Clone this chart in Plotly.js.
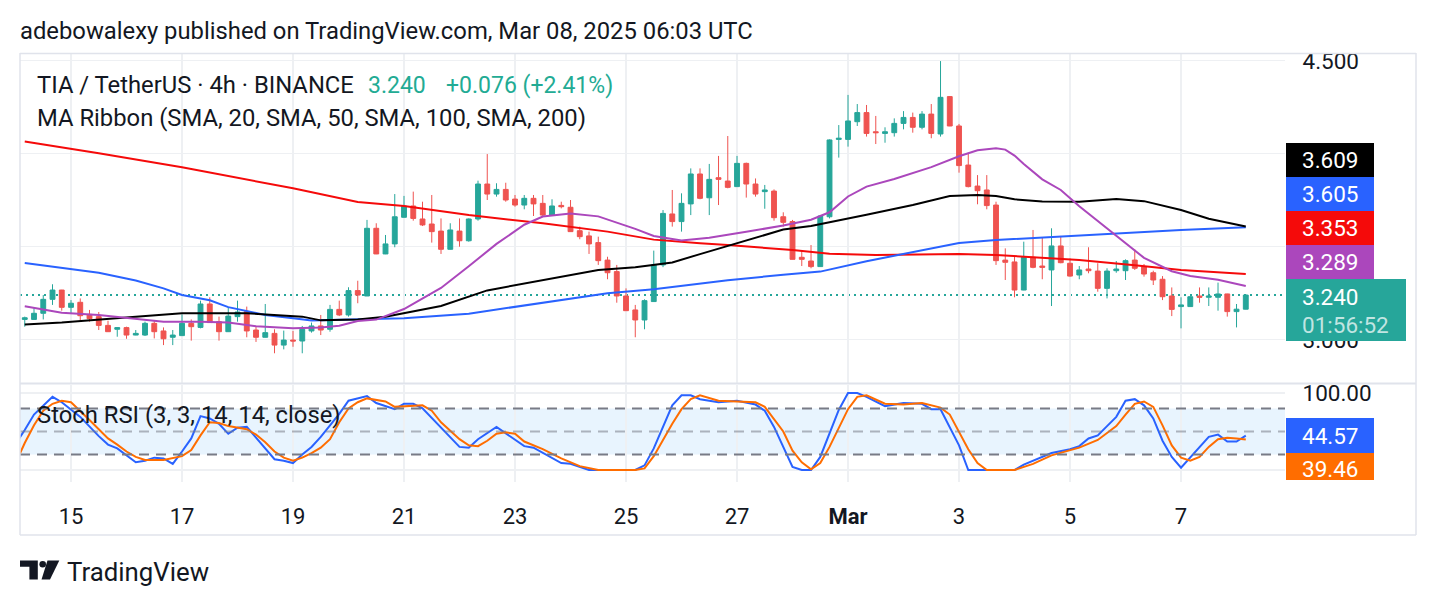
<!DOCTYPE html>
<html><head><meta charset="utf-8">
<script src="https://cdn.plot.ly/plotly-3.0.1.min.js"></script>
<style>html,body{margin:0;padding:0;background:#fff;}#chart{width:1436px;height:606px;}</style>
</head><body><div id="chart"></div>
<script>
// ---- data ----
const firstCandle = Date.UTC(2025, 1, 14, 4, 0); // 4h candles, BINANCE TIA/USDT
const stepMs = 4 * 3600 * 1000;

const openP = [3.109,3.109,3.142,3.217,3.267,3.174,3.201,3.136,3.124,3.077,
3.056,3.065,3.025,3.025,3.088,3.047,3.013,3.022,3.088,3.066,
3.192,3.097,3.043,3.124,3.152,3.052,3.013,3.034,2.971,2.998,
2.993,3.047,3.074,3.056,3.163,3.133,3.264,3.235,3.599,3.461,
3.515,3.658,3.719,3.649,3.622,3.584,3.486,3.584,3.532,3.649,
3.837,3.783,3.808,3.756,3.724,3.760,3.733,3.670,3.722,3.712,
3.586,3.558,3.522,3.428,3.366,3.235,3.160,3.106,3.205,3.402,
3.676,3.635,3.730,3.891,3.763,3.871,3.853,3.823,3.948,3.837,
3.796,3.799,3.661,3.635,3.443,3.423,3.393,3.661,4.077,4.077,
4.172,4.221,4.118,4.109,4.113,4.163,4.195,4.142,4.213,4.106,
4.307,4.149,3.939,3.826,3.805,3.724,3.428,3.418,3.267,3.443,
3.396,3.375,3.504,3.411,3.348,3.380,3.369,3.276,3.371,3.371,
3.428,3.393,3.360,3.325,3.235,3.178,3.178,3.235,3.228,3.228,
3.246,3.151,3.164];
const highP = [3.124,3.169,3.240,3.298,3.268,3.213,3.222,3.160,3.149,3.102,
3.066,3.070,3.052,3.097,3.106,3.066,3.052,3.136,3.109,3.210,
3.228,3.124,3.174,3.210,3.178,3.074,3.192,3.056,3.049,3.047,
3.074,3.092,3.133,3.187,3.210,3.282,3.317,3.644,3.626,3.563,
3.783,3.773,3.796,3.742,3.778,3.652,3.626,3.652,3.652,3.855,
3.998,3.841,3.844,3.778,3.778,3.778,3.778,3.755,3.742,3.751,
3.608,3.581,3.554,3.446,3.402,3.276,3.187,3.217,3.479,3.697,
3.805,3.787,3.921,3.921,3.945,3.988,4.095,3.988,3.952,3.867,
3.832,3.808,3.685,3.644,3.482,3.509,3.670,4.077,4.154,4.316,
4.267,4.262,4.203,4.142,4.190,4.229,4.221,4.229,4.267,4.498,
4.310,4.160,4.005,3.885,3.885,3.742,3.491,3.450,3.527,3.590,
3.550,3.599,3.558,3.437,3.396,3.497,3.411,3.384,3.423,3.432,
3.486,3.407,3.371,3.342,3.281,3.228,3.235,3.281,3.281,3.307,
3.247,3.192,3.245];
const lowP = [3.070,3.106,3.109,3.187,3.156,3.138,3.102,3.097,3.052,3.042,
3.016,3.005,3.024,3.020,3.007,2.971,2.971,3.021,2.995,3.061,
3.091,2.995,3.042,3.097,3.013,2.988,3.012,2.927,2.948,2.962,
2.927,3.038,3.025,3.043,3.127,3.124,3.196,3.235,3.460,3.460,
3.497,3.657,3.640,3.611,3.522,3.461,3.485,3.500,3.527,3.640,
3.751,3.769,3.742,3.715,3.701,3.665,3.665,3.669,3.706,3.580,
3.540,3.461,3.402,3.325,3.199,3.155,3.013,3.056,3.204,3.390,
3.608,3.581,3.670,3.755,3.670,3.724,3.814,3.822,3.764,3.769,
3.704,3.640,3.608,3.431,3.396,3.384,3.392,3.652,3.979,4.038,
4.149,4.092,4.052,4.059,4.092,4.131,4.113,4.131,4.083,4.092,
4.148,3.898,3.819,3.728,3.701,3.402,3.321,3.228,3.266,3.384,
3.325,3.181,3.411,3.339,3.325,3.357,3.258,3.222,3.360,3.321,
3.375,3.339,3.294,3.213,3.127,3.061,3.177,3.199,3.181,3.156,
3.124,3.066,3.170];
const closeP = [3.118,3.142,3.217,3.267,3.174,3.196,3.129,3.113,3.077,3.043,
3.065,3.025,3.034,3.088,3.043,3.005,3.025,3.088,3.070,3.192,
3.092,3.043,3.127,3.149,3.047,3.013,3.038,2.971,2.998,2.993,
3.056,3.074,3.052,3.163,3.133,3.264,3.240,3.599,3.461,3.515,
3.661,3.719,3.652,3.617,3.581,3.486,3.590,3.532,3.649,3.837,
3.783,3.808,3.751,3.724,3.760,3.730,3.670,3.719,3.715,3.581,
3.554,3.515,3.425,3.360,3.235,3.156,3.106,3.210,3.402,3.679,
3.635,3.733,3.891,3.760,3.862,3.862,3.819,3.948,3.837,3.783,
3.805,3.656,3.631,3.432,3.432,3.393,3.665,4.074,4.083,4.176,
4.221,4.109,4.113,4.118,4.163,4.195,4.142,4.213,4.109,4.303,
4.149,3.936,3.823,3.801,3.721,3.425,3.416,3.267,3.443,3.389,
3.389,3.504,3.414,3.342,3.375,3.371,3.276,3.369,3.380,3.425,
3.384,3.353,3.321,3.231,3.163,3.187,3.231,3.228,3.235,3.246,
3.151,3.164,3.240];

// MA ribbon samples (candle index, value)
const sma20Idx = [0,4,8,12,15,19,22,25,29,32,34,36,38,41,45,48,51,54,56,59,62,66,68,71,74,78,82,85,87,89,91,94,98,101,103,105,106,107,108,110,112,114,118,121,124,126,129,132];
const sma20Val = [3.180,3.145,3.133,3.114,3.097,3.097,3.092,3.072,3.061,3.066,3.075,3.100,3.108,3.165,3.278,3.395,3.515,3.618,3.662,3.679,3.663,3.596,3.558,3.533,3.548,3.580,3.614,3.645,3.685,3.770,3.823,3.864,3.928,3.986,4.018,4.029,4.022,3.990,3.945,3.862,3.805,3.717,3.560,3.440,3.368,3.342,3.322,3.289];
const sma50Idx = [0,4,12,17,24,30,32,36,39,45,50,56,62,66,70,73,76,82,85,88,91,96,100,103,105,107,110,114,118,121,125,128,132];
const sma50Val = [3.082,3.092,3.124,3.142,3.142,3.124,3.104,3.108,3.124,3.181,3.265,3.321,3.375,3.389,3.415,3.460,3.505,3.592,3.611,3.640,3.672,3.724,3.772,3.778,3.772,3.755,3.743,3.742,3.756,3.745,3.697,3.650,3.609];
const sma100Idx = [0,4,8,12,15,17,20,22,26,29,31,34,36,41,48,55,63,68,71,76,82,86,91,96,101,105,110,114,125,132];
const sma100Val = [3.412,3.386,3.360,3.318,3.276,3.240,3.212,3.175,3.133,3.115,3.103,3.107,3.109,3.115,3.140,3.190,3.250,3.271,3.290,3.320,3.349,3.366,3.422,3.473,3.520,3.536,3.550,3.563,3.590,3.605];
const sma200Idx = [0,8,17,29,36,41,48,56,63,68,73,76,83,87,92,101,105,110,114,120,125,132];
const sma200Val = [4.066,4.003,3.927,3.814,3.740,3.719,3.670,3.626,3.581,3.538,3.518,3.509,3.482,3.462,3.455,3.461,3.455,3.440,3.429,3.400,3.375,3.353];

// Stoch RSI samples (candle index, value)
const kIdx = [-1,0,1,3,4,6,8,9,10,12,13,14,15,16,17,18,19,20,21,22,23,24,25,26,27,28,29,30,31,32,33,34,35,36,37,38,40,41,42,43,45,47,48,49,51,52,54,55,57,58,59,61,66,67,68,70,71,72,73,75,77,79,80,81,83,84,85,86,88,89,90,91,93,95,97,98,99,100,101,102,107,108,110,111,113,114,115,116,117,118,119,120,121,122,123,124,125,126,128,129,130,131,132];
const kVal = [34,52,72,95,88,69,44,33,28,10,12,16,15,8,24,41,70,67,60,47,55,56,42,28,14,12,9,20,30,43,58,73,90,93,96,87,79,86,86,80,55,30,29,40,56,48,31,29,16,9,8,0,0,6,28,84,97,97,92,88,90,85,77,56,4,0,0,17,78,100,100,95,83,87,86,79,79,55,32,0,0,7,17,22,27,31,41,45,57,69,90,92,84,67,38,17,3,16,43,46,37,37,44.57];
const dIdx = [-1,0,1,2,3,4,5,6,7,8,9,10,11,12,13,15,16,17,18,19,20,21,22,24,25,26,27,28,29,30,31,32,33,34,35,36,37,38,39,40,42,43,44,45,47,48,49,50,51,52,53,54,56,58,60,62,66,67,68,69,70,71,72,73,75,77,79,80,82,83,84,85,86,87,88,89,90,91,93,95,97,99,100,101,102,103,104,107,109,111,114,116,118,119,120,121,122,123,124,125,126,127,128,129,130,131,132];
const dVal = [9,35,58,77,86,90,88,77,65,53,41,33,24,17,13,13,16,18,26,45,62,61,57,53,46,36,24,16,12,16,22,29,40,62,80,88,93,91,89,82,83,84,77,62,40,32,31,38,47,49,47,37,27,15,5,0,0,2,18,40,60,79,92,97,90,89,88,82,50,25,10,1,9,30,55,79,95,97,86,85,87,81,72,50,27,9,0,0,8,19,29,39,57,72,86,89,82,58,32,16,12,17,30,40,42,41,39.46];

const tickDates = ['2025-02-15','2025-02-17','2025-02-19','2025-02-21','2025-02-23','2025-02-25','2025-02-27','2025-03-01','2025-03-03','2025-03-05','2025-03-07'];
const tickLabels = ['15','17','19','21','23','25','27','<b>Mar</b>','3','5','7'];

// ---- helpers ----
function t(i){ return new Date(firstCandle + i*stepMs).toISOString().replace('T',' ').replace('Z',''); }
const times = openP.map((_, i) => t(i));
const W=1436, H=606, ML=20, MR=151, MT=53, MB=124;
const PW=W-ML-MR, PH=H-MT-MB;
const px = X => (X-ML)/PW;
const py = Y => (H-MB-Y)/PH;
const FONT = 'Roboto, "Noto Sans", sans-serif';
const TXT = '#131722';
const TEAL = '#26a69a', RED = '#ef5350';
const HEAD = 23.8, AX = 22.5;

function maTrace(idx, val, color){
  return {type:'scatter', mode:'lines', x: idx.map(t), y: val, xaxis:'x', yaxis:'y',
    line:{color:color, width:2}, hoverinfo:'skip', showlegend:false};
}
function stTrace(idx, val, color){
  return {type:'scatter', mode:'lines', x: idx.map(t), y: val, xaxis:'x', yaxis:'y2',
    line:{color:color, width:2}, hoverinfo:'skip', showlegend:false, cliponaxis:true};
}

const traces = [
  maTrace(sma200Idx, sma200Val, '#f50a0a'),
  maTrace(sma100Idx, sma100Val, '#2962ff'),
  maTrace(sma50Idx, sma50Val, '#000000'),
  maTrace(sma20Idx, sma20Val, '#ab47bc'),
  {type:'candlestick', x: times, open: openP, high: highP, low: lowP, close: closeP,
   xaxis:'x', yaxis:'y', whiskerwidth:0,
   increasing:{line:{color:TEAL, width:1}, fillcolor:TEAL},
   decreasing:{line:{color:RED, width:1}, fillcolor:RED},
   hoverinfo:'skip', showlegend:false},
  stTrace(kIdx, kVal, '#2962ff'),
  stTrace(dIdx, dVal, '#ff6d00')
];

const GRID = '#eef0f3';
const BORDER = '#e0e3eb';
const shapes = [
  // stoch band
  {type:'rect', xref:'paper', yref:'y2', x0:0, x1:1, y0:20, y1:80, fillcolor:'rgba(33,150,243,0.1)', line:{width:0}, layer:'below'},
  {type:'line', xref:'paper', yref:'y2', x0:0, x1:1, y0:80, y1:80, line:{color:'#787b86', width:2, dash:'10px,7px'}},
  {type:'line', xref:'paper', yref:'y2', x0:0, x1:1, y0:50, y1:50, line:{color:'rgba(120,123,134,0.55)', width:2, dash:'10px,7px'}},
  {type:'line', xref:'paper', yref:'y2', x0:0, x1:1, y0:20, y1:20, line:{color:'#787b86', width:2, dash:'10px,7px'}},
  // last price dotted line
  {type:'line', xref:'paper', yref:'y', x0:0, x1:1, y0:closeP[closeP.length-1], y1:closeP[closeP.length-1], line:{color:TEAL, width:2, dash:'2px,4px'}, layer:'below'},
  // frame
  {type:'line', xref:'paper', yref:'paper', x0:px(20), x1:px(1416), y0:py(53.5), y1:py(53.5), line:{color:BORDER, width:1.5}},
  {type:'line', xref:'paper', yref:'paper', x0:px(20), x1:px(1416), y0:py(535), y1:py(535), line:{color:BORDER, width:1.5}},
  {type:'line', xref:'paper', yref:'paper', x0:px(20), x1:px(20), y0:py(53), y1:py(535), line:{color:BORDER, width:1.5}},
  {type:'line', xref:'paper', yref:'paper', x0:px(1416), x1:px(1416), y0:py(53), y1:py(535), line:{color:BORDER, width:1.5}},
  {type:'line', xref:'paper', yref:'paper', x0:px(20), x1:px(1416), y0:py(383.5), y1:py(383.5), line:{color:BORDER, width:2}}
];

// right-axis value boxes
function box(y0, y1, x1, color){
  shapes.push({type:'rect', xref:'paper', yref:'paper', x0:px(1286), x1:px(x1), y0:py(y1), y1:py(y0), fillcolor:color, line:{width:0}});
}
box(143,177,1374,'#000000');
box(177,211,1374,'#2962ff');
box(211,245,1374,'#f50a0a');
box(245,279,1374,'#ab47bc');
box(279,341,1406,TEAL);
box(418,453,1374,'#2962ff');
box(453,480,1374,'#ff6d00');

// TradingView logo
function pathOf(pts){ return 'M' + pts.map(p => px(p[0]) + ',' + py(p[1])).join(' L') + ' Z'; }
shapes.push({type:'path', xref:'paper', yref:'paper', path: pathOf([[20,560.5],[37.8,560.5],[37.8,579.5],[29.4,579.5],[29.4,566.8],[20,566.8]]), fillcolor:'#131722', line:{width:0}});
shapes.push({type:'circle', xref:'paper', yref:'paper', x0:px(39.4), x1:px(46.0), y0:py(567.6), y1:py(561.0), fillcolor:'#131722', line:{width:0}});
shapes.push({type:'path', xref:'paper', yref:'paper', path: pathOf([[47.5,560.5],[59.3,560.5],[50.0,579.5],[41.5,579.5]]), fillcolor:'#131722', line:{width:0}});

function ann(x, y, text, size, color, extra){
  return Object.assign({xref:'paper', yref:'paper', x:px(x), y:py(y), text:text, showarrow:false,
    xanchor:'left', yanchor:'middle', font:{family:FONT, size:size, color:color}}, extra||{});
}
const annotations = [
  ann(18, 31, 'adebowalexy published on TradingView.com, Mar 08, 2025 06:03 UTC', HEAD, TXT),
  ann(35, 85, 'TIA / TetherUS · 4h · BINANCE', HEAD, TXT),
  ann(366, 85, '3.240', 23, '#22ab94'),
  ann(444, 85, '+0.076 (+2.41%)', 23, '#22ab94'),
  ann(35, 118, 'MA Ribbon (SMA, 20, SMA, 50, SMA, 100, SMA, 200)', HEAD, TXT),
  ann(35, 415, 'Stoch RSI (3, 3, 14, 14, close)', 23.8, TXT),
  ann(1300, 160, '3.609', AX, '#ffffff'),
  ann(1300, 194, '3.605', AX, '#ffffff'),
  ann(1300, 228, '3.353', AX, '#ffffff'),
  ann(1300, 262, '3.289', AX, '#ffffff'),
  ann(1300, 297, '3.240', AX, '#ffffff'),
  ann(1300, 325, '01:56:52', AX, 'rgba(255,255,255,0.72)'),
  ann(1300, 436, '44.57', AX, '#ffffff'),
  ann(1300, 469, '39.46', AX, '#ffffff'),
  ann(65, 572, 'TradingView', 25.8, TXT)
];

const layout = {
  width:W, height:H, margin:{l:ML, r:MR, t:MT, b:MB, pad:0},
  paper_bgcolor:'#ffffff', plot_bgcolor:'rgba(0,0,0,0)',
  showlegend:false, boxgap:0.25,
  font:{family:FONT, color:TXT, size:AX},
  xaxis:{type:'date', anchor:'y2', range:[t(-0.514), t(136.24)], rangeslider:{visible:false},
    tickmode:'array', tickvals:tickDates, ticktext:tickLabels,
    showgrid:true, gridcolor:GRID, gridwidth:1.5, zeroline:false, showline:false,
    ticks:'outside', ticklen:15, tickcolor:'rgba(0,0,0,0)', tickfont:{family:FONT, size:22, color:TXT}, fixedrange:true},
  yaxis:{domain:[(482-383)/PH, 1], range:[2.7672, 4.5414], side:'right', anchor:'x',
    tickmode:'array', tickvals:[3.0,3.5,4.0,4.5], ticktext:['3.000','','','4.500'],
    showgrid:true, gridcolor:GRID, gridwidth:1.5, zeroline:false, showline:false,
    ticks:'outside', ticklen:12, tickcolor:'rgba(0,0,0,0)', tickfont:{family:FONT, size:AX, color:TXT}},
  yaxis2:{domain:[0, (482-385)/PH], range:[-15.6, 110.4], side:'right', anchor:'x',
    tickmode:'array', tickvals:[0,100], ticktext:['','100.00'],
    showgrid:true, gridcolor:GRID, gridwidth:1.5, zeroline:false, showline:false,
    ticks:'outside', ticklen:12, tickcolor:'rgba(0,0,0,0)', tickfont:{family:FONT, size:AX, color:TXT}},
  shapes:shapes, annotations:annotations
};

Plotly.newPlot('chart', traces, layout, {displayModeBar:false, staticPlot:true});
</script></body></html>
